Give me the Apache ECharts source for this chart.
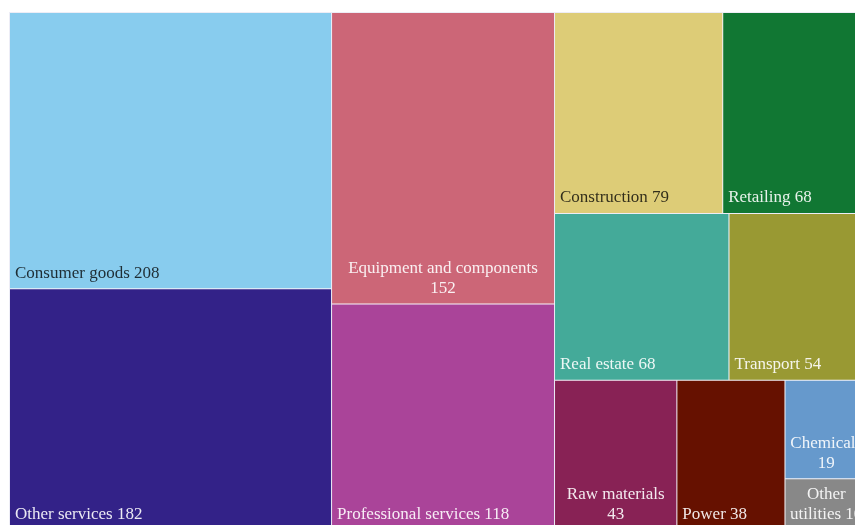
<!DOCTYPE html>
<html>
<head>
<meta charset="utf-8">
<script src="https://cdn.jsdelivr.net/npm/echarts@6/dist/echarts.min.js"></script>
<style>
  html, body { margin: 0; padding: 0; background: #ffffff; }
  #chart { width: 855px; height: 525px; }
</style>
</head>
<body>
<div id="chart"></div>
<script>
// Number of firms per sector (largest first)
const sectors = [
  'Consumer goods', 'Other services', 'Equipment and components', 'Professional services',
  'Construction', 'Retailing', 'Real estate', 'Transport',
  'Raw materials', 'Power', 'Chemicals', 'Other utilities'
];
const counts = [208, 182, 152, 118, 79, 68, 68, 54, 43, 38, 19, 10];

// Tile colours, one per sector
const palette = [
  '#88CCEE', '#332288', '#CC6677', '#AA4499',
  '#DDCC77', '#117733', '#44AA99', '#999933',
  '#882255', '#661100', '#6699CC', '#888888'
];

// Sectors on pale tiles get dark label text
const darkLabelSectors = ['Consumer goods', 'Construction'];

// Narrow tiles split their label in two: words kept on the first line
const firstLineWords = {
  'Equipment and components': 3,
  'Raw materials': 2,
  'Chemicals': 1,
  'Other utilities': 1
};

const FONT = '"Liberation Serif", "DejaVu Serif", serif';

const chart = echarts.init(document.getElementById('chart'), null, { renderer: 'canvas' });

const data = sectors.map((name, i) => {
  const label = {
    color: darkLabelSectors.includes(name) ? 'rgba(0,0,0,0.78)' : 'rgba(255,255,255,0.9)'
  };
  if (firstLineWords[name]) {
    // two-line labels sit centred at the foot of their tile
    label.position = 'insideBottom';
    label.align = 'center';
  }
  return { name: name, value: counts[i], itemStyle: { color: palette[i] }, label: label };
});

chart.setOption({
  animation: false,
  series: [{
    type: 'treemap',
    left: 9,
    top: 12,
    width: 859,
    height: 519,
    roam: false,
    nodeClick: false,
    sort: false,
    squareRatio: 1,
    breadcrumb: { show: false },
    emphasis: { disabled: true },
    levels: [
      { itemStyle: { borderWidth: 1, borderColor: 'rgba(236,236,246,0.95)', gapWidth: 1 } },
      { itemStyle: { borderWidth: 0, gapWidth: 0 } }
    ],
    label: {
      show: true,
      position: 'insideBottomLeft',
      distance: 0,
      padding: 5,
      verticalAlign: 'bottom',
      fontFamily: FONT,
      fontSize: 17,
      lineHeight: 20,
      overflow: 'none',
      formatter: function (p) {
        const words = (p.name + ' ' + p.value).split(' ');
        const n = firstLineWords[p.name];
        if (!n) return words.join(' ');
        return words.slice(0, n).join(' ') + '\n' + words.slice(n).join(' ');
      }
    },
    data: data
  }]
});
</script>
</body>
</html>
